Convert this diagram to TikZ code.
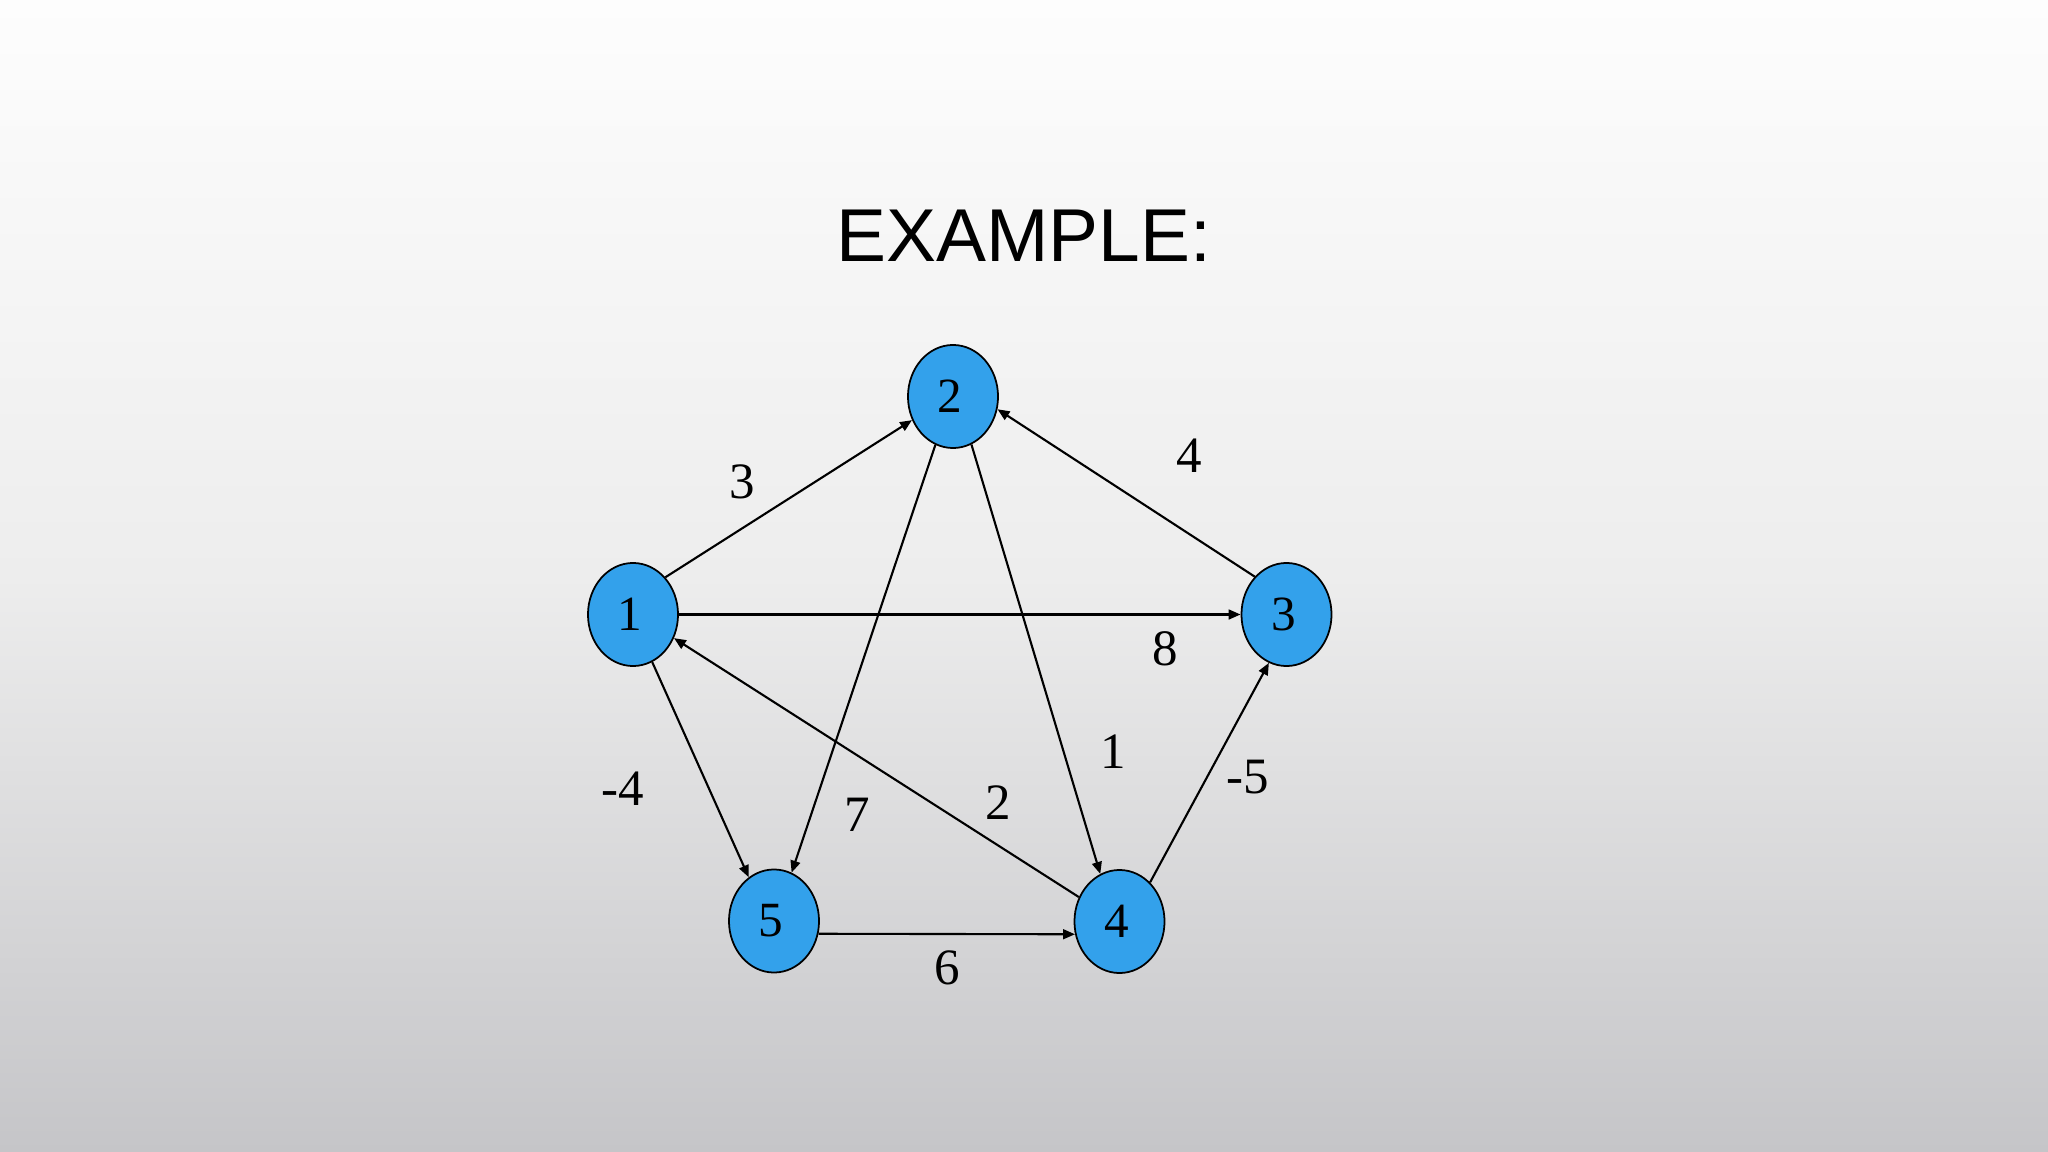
\documentclass[tikz,border=0pt]{standalone}
\usepackage{fontspec}
\setmainfont{Liberation Serif}
\newfontfamily\titlefont{Liberation Sans}
\usetikzlibrary{shapes.geometric,arrows.meta}
\definecolor{nodeblue}{HTML}{33A1EB}
\definecolor{bgtop}{HTML}{FDFDFD}
\definecolor{bgmid}{HTML}{EDEDED}
\definecolor{bgbot}{HTML}{C5C5C8}
\newcommand{\vlab}[1]{\kern-0.06cm #1}
\tikzset{
  vert/.style={ellipse, draw=black, line width=0.5pt, fill=nodeblue, minimum width=0.9cm, minimum height=1.03cm, inner sep=0pt, font=\fontsize{14}{16}\selectfont},
  edge/.style={line width=0.6pt, -{Triangle[length=3.4pt,width=2.8pt]}},
  wlabel/.style={font=\fontsize{14.5}{17}\selectfont, inner sep=0pt}
}
\begin{document}
\begin{tikzpicture}[x=0.01cm,y=-0.01cm]
\useasboundingbox (0,0) rectangle (2048,1152);
\shade[top color=bgtop, bottom color=bgbot, middle color=bgmid] (0,0) rectangle (2048,1152);
\node[font=\titlefont\fontsize{21.3}{25}\selectfont, anchor=base] (title) at (1023.5,262) {EXAMPLE:};
\node[vert] (n1) at (633,614.5) {\vlab{1}};
\node[vert] (n2) at (953,396.5) {\vlab{2}};
\node[vert] (n3) at (1286.5,614.5) {\vlab{3}};
\node[vert] (n4) at (1119.5,921.5) {\vlab{4}};
\node[vert] (n5) at (774,921) {\vlab{5}};
\draw[edge] (n1.49) -- (n2.210);
\draw[edge] (n2.250) -- (n5.70);
\draw[edge] (n2.291) -- (n4.112);
\draw[edge] (n3.130) -- (n2.-16);
\draw[edge] (n1.0) -- (n3.180);
\draw[edge] (n4.149) -- (n1.-30);
\draw[edge] (n1.-68) -- (n5.120);
\draw[edge] (n5.-16) -- (n4.196);
\draw[edge] (n4.52) -- (n3.250);
\node[wlabel] (l3) at (742,482) {3};
\node[wlabel] (l4) at (1189,456) {4};
\node[wlabel] (l8) at (1165,649) {8};
\node[wlabel] (l1) at (1113,752) {1};
\node[wlabel] (lm5) at (1248,777) {-5};
\node[wlabel] (l2) at (998,803) {2};
\node[wlabel] (lm4) at (623,789) {-4};
\node[wlabel] (l7) at (857,815) {7};
\node[wlabel] (l6) at (947,968) {6};
\end{tikzpicture}
\end{document}
